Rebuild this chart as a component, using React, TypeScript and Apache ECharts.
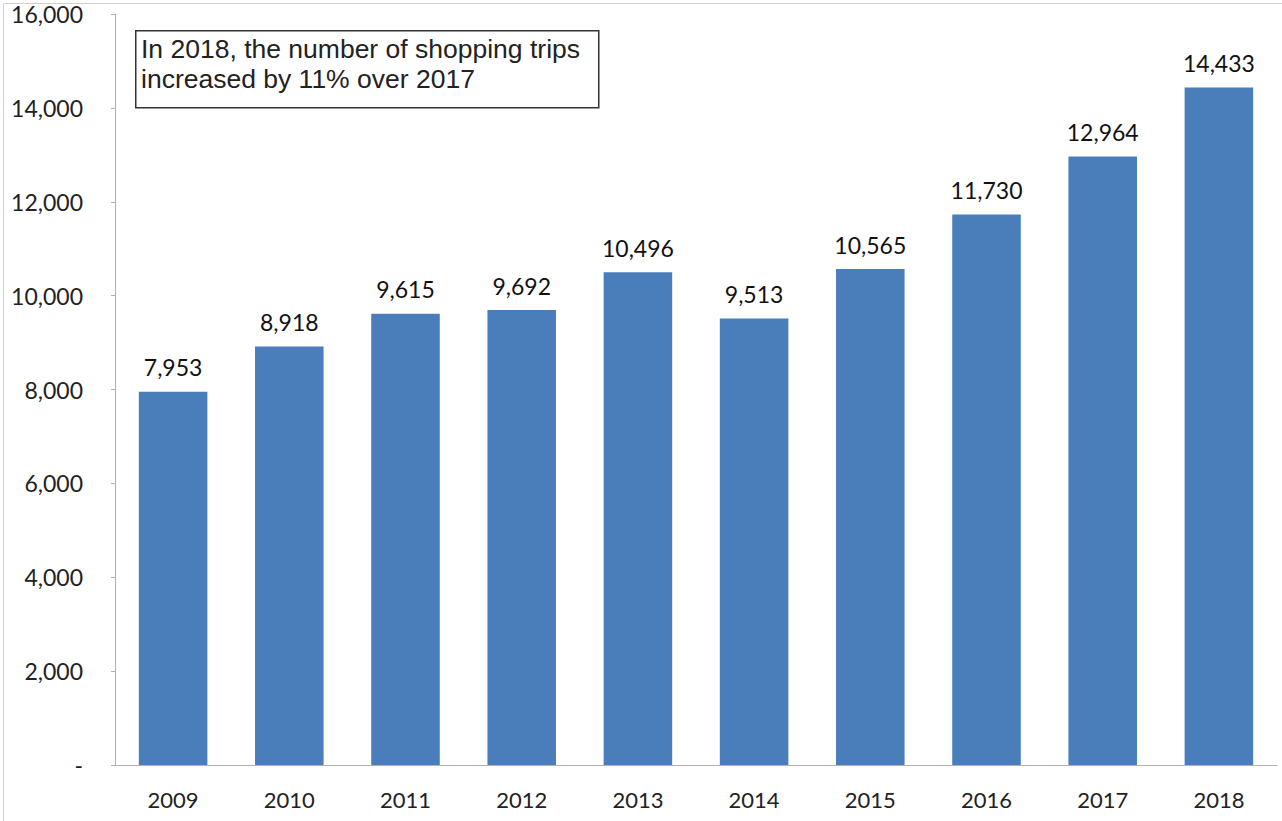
import React, { useEffect, useRef } from "react";
import * as echarts from "echarts";

const years = ["2009", "2010", "2011", "2012", "2013", "2014", "2015", "2016", "2017", "2018"];
const trips = [7953, 8918, 9615, 9692, 10496, 9513, 10565, 11730, 12964, 14433];
const yTicks = [0, 2000, 4000, 6000, 8000, 10000, 12000, 14000, 16000];
const noteLines = ["In 2018, the number of shopping trips", "increased by 11% over 2017"];

const fmt = (v: number) => (v === 0 ? "-" : v.toLocaleString("en-US"));

export default function App() {
  const ref = useRef<HTMLDivElement>(null);
  useEffect(() => {
    if (!ref.current) return;
    const chart = echarts.init(ref.current, undefined, { renderer: "svg" });
    const font = "Lato, 'Open Sans', sans-serif";
    chart.setOption({
      animation: false,
      backgroundColor: "#ffffff",
      grid: { left: 115, right: 5, top: 14, bottom: 56, containLabel: false },
      xAxis: {
        type: "category",
        data: years,
        axisLine: { show: true, lineStyle: { color: "#b0b0b0", width: 1 } },
        axisTick: { show: false },
        axisLabel: { color: "#222", fontSize: 22, fontFamily: font, margin: 23 },
      },
      yAxis: {
        type: "value",
        min: yTicks[0],
        max: yTicks[yTicks.length - 1],
        interval: 2000,
        splitLine: { show: false },
        axisLine: { show: true, lineStyle: { color: "#b0b0b0", width: 1 } },
        axisTick: { show: true, length: 4, lineStyle: { color: "#b0b0b0" } },
        axisLabel: {
          color: "#222",
          fontSize: 23,
          fontFamily: font,
          margin: 32,
          formatter: (v: number) => fmt(v),
        },
      },
      series: [
        {
          type: "bar",
          data: trips,
          barCategoryGap: "41%",
          itemStyle: { color: "#4A7EBB" },
          label: {
            show: true,
            position: "top",
            distance: 13,
            color: "#111",
            fontSize: 23,
            fontFamily: font,
            formatter: (p: any) => fmt(p.value),
          },
        },
      ],
      graphic: [
        {
          type: "rect",
          left: 1,
          top: 1,
          shape: { width: 1279, height: 818 },
          style: { fill: "none", stroke: "#d0d0d0", lineWidth: 1 },
          silent: true,
        },
        {
          type: "rect",
          left: 135,
          top: 30,
          shape: { width: 463, height: 77 },
          style: { fill: "#ffffff", stroke: "#333", lineWidth: 1.5 },
        },
        {
          type: "text",
          left: 141,
          top: 34,
          style: {
            text: noteLines.join("\n"),
            font: "26.5px 'Liberation Sans', Arial, sans-serif",
            fill: "#222",
            lineHeight: 30,
          },
        },
      ],
    });
    return () => chart.dispose();
  }, []);
  return (
    <div
      ref={ref}
      style={{ position: "absolute", left: 0, top: 0, width: 1282, height: 821 }}
    />
  );
}
